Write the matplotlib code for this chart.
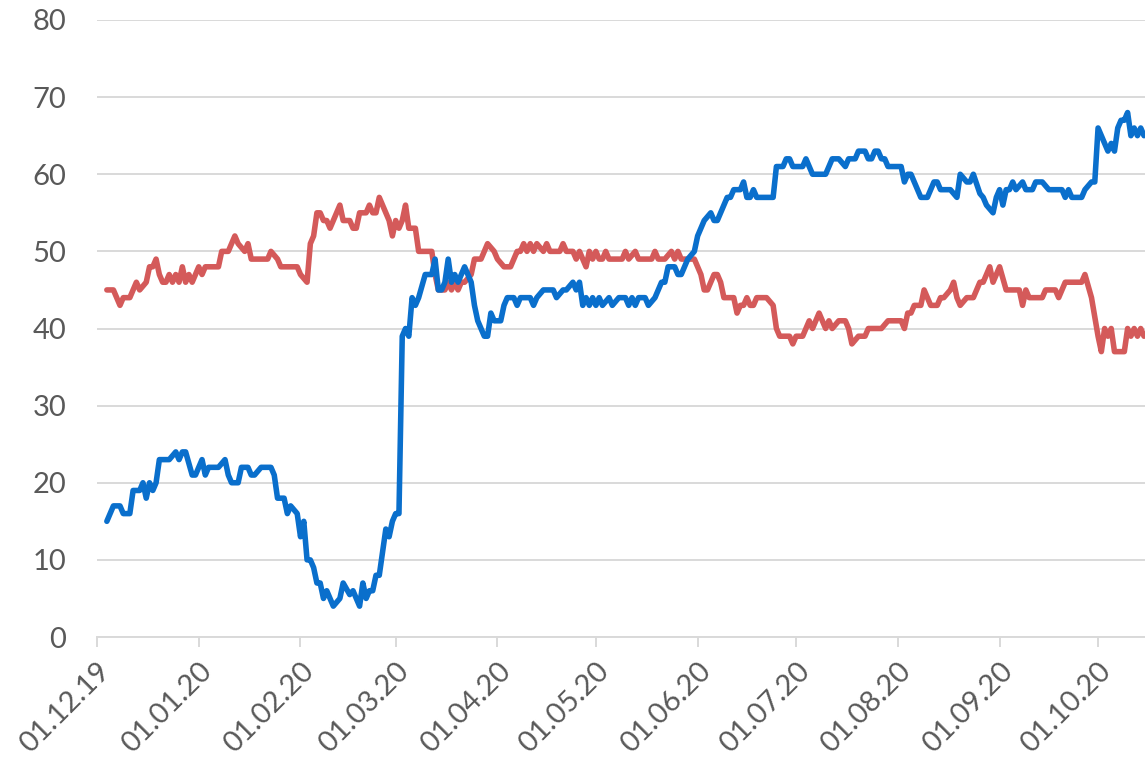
import matplotlib
matplotlib.use('Agg')
import matplotlib.pyplot as plt
import pandas as pd

start_date = '2019-12-01'

blue_days = [3, 5, 7, 8, 10, 11, 13, 14, 15, 16, 17, 18, 19, 22, 24, 25, 26, 27, 29, 30,
             32, 33, 34, 37, 39, 40, 41, 43, 44, 46, 47, 48, 50, 53, 54, 55, 56, 57, 58, 59,
             60, 61, 62, 63, 64, 65, 66, 67, 68, 69, 70, 71, 72, 74, 75, 77, 78, 79, 80, 81,
             82, 83, 84, 85, 86, 87, 88, 89, 90, 91, 92, 93, 94, 95, 96, 97, 98, 100, 102, 103,
             104, 105, 106, 107, 108, 109, 110, 111, 112, 113, 114, 115, 116, 117, 118, 119, 120, 121, 123, 124,
             125, 127, 128, 129, 132, 133, 134, 136, 139, 140, 142, 143, 145, 146, 147, 148, 149, 150, 151, 152,
             153, 154, 156, 157, 159, 161, 162, 163, 164, 165, 167, 168, 170, 171, 172, 173, 174, 176, 177, 178,
             179, 180, 182, 183, 184, 185, 187, 188, 189, 190, 192, 193, 194, 196, 197, 198, 199, 200, 201, 206,
             207, 209, 210, 211, 212, 215, 216, 217, 218, 222, 223, 224, 226, 228, 229, 231, 232, 234, 235, 236,
             237, 238, 239, 240, 241, 244, 245, 246, 247, 248, 249, 250, 251, 253, 255, 256, 257, 260, 262, 263,
             265, 266, 267, 269, 270, 271, 273, 274, 275, 276, 277, 278, 279, 280, 282, 283, 285, 286, 288, 290,
             294, 295, 296, 297, 300, 301, 303, 304, 305, 306, 307, 308, 309, 310, 311, 312, 313, 314, 315, 316,
             317, 318, 319]
blue_values = [15, 17, 17, 16, 16, 19, 19, 20, 18, 20, 19, 20, 23, 23, 24, 23, 24, 24, 21, 21,
               23, 21, 22, 22, 23, 21, 20, 20, 22, 22, 21, 21, 22, 22, 21, 18, 18, 18, 16, 17,
               16.5, 16, 13, 15, 10, 10, 9, 7, 7, 5, 6, 5, 4, 5, 7, 5.5, 6, 5, 4, 7,
               5, 6, 6, 8, 8, 11, 14, 13, 15, 16, 16, 39, 40, 39, 44, 43, 44, 47, 47, 49,
               45, 45, 46, 49, 46, 47, 46, 47, 48, 47, 46, 43, 41, 40, 39, 39, 42, 41, 41, 43,
               44, 44, 43, 44, 44, 43, 44, 45, 45, 44, 45, 45, 46, 45, 46, 43, 44, 43, 44, 43,
               44, 43, 44, 43, 44, 44, 43, 44, 43, 44, 44, 43, 44, 45, 46, 46, 48, 48, 47, 47,
               48, 49, 50, 52, 53, 54, 55, 54, 54, 55, 57, 57, 58, 58, 59, 57, 57, 58, 57, 57,
               61, 61, 62, 62, 61, 61, 62, 61, 60, 60, 61, 62, 62, 61, 62, 62, 63, 63, 62, 62,
               63, 63, 62, 62, 61, 61, 61, 59, 60, 60, 59, 58, 57, 57, 59, 59, 58, 58, 57, 60,
               59, 59, 60, 57.5, 57, 56, 55, 57, 58, 56, 58, 58, 59, 58, 59, 58, 58, 59, 59, 58,
               58, 57, 58, 57, 57, 58, 59, 59, 66, 65, 64, 63, 64, 63, 66, 67, 67, 68, 65, 66,
               65, 66, 65]

red_days = [3, 5, 7, 8, 10, 11, 12, 13, 15, 16, 17, 18, 19, 20, 21, 22, 23, 24, 25, 26,
            27, 28, 29, 30, 31, 32, 33, 37, 38, 39, 40, 42, 43, 45, 46, 47, 52, 53, 55, 56,
            61, 62, 64, 65, 66, 67, 68, 69, 70, 71, 72, 73, 74, 75, 77, 78, 79, 80, 82, 83,
            84, 85, 86, 87, 89, 90, 91, 92, 93, 94, 95, 97, 98, 102, 103, 104, 106, 107, 108, 109,
            110, 111, 112, 114, 115, 117, 118, 119, 121, 122, 124, 126, 127, 128, 129, 130, 131, 132, 133, 134,
            136, 137, 138, 141, 142, 143, 145, 146, 147, 148, 149, 150, 151, 152, 153, 154, 155, 156, 160, 161,
            162, 164, 165, 169, 170, 171, 173, 175, 176, 177, 178, 182, 183, 184, 185, 186, 188, 189, 190, 191,
            194, 195, 196, 197, 198, 199, 200, 201, 204, 206, 207, 208, 211, 212, 213, 215, 216, 217, 218, 220,
            221, 222, 223, 224, 226, 228, 229, 230, 232, 234, 235, 239, 240, 241, 245, 246, 247, 248, 249, 251,
            252, 253, 254, 256, 257, 258, 260, 261, 262, 263, 265, 267, 268, 269, 270, 271, 272, 273, 275, 277,
            281, 282, 283, 284, 288, 289, 292, 293, 295, 300, 301, 303, 304, 305, 306, 307, 308, 309, 310, 313,
            314, 315, 316, 317, 318, 319]
red_values = [45, 45, 43, 44, 44, 45, 46, 45, 46, 48, 48, 49, 47, 46, 46, 47, 46, 47, 46, 48,
              46, 47, 46, 47, 48, 47, 48, 48, 50, 50, 50, 52, 51, 50, 51, 49, 49, 50, 49, 48,
              48, 47, 46, 51, 52, 55, 55, 54, 54, 53, 54, 55, 56, 54, 54, 53, 53, 55, 55, 56,
              55, 55, 57, 56, 54, 52, 54, 53, 54, 56, 53, 53, 50, 50, 47, 45, 45, 46, 45, 46,
              45, 46, 46, 47, 49, 49, 50, 51, 50, 49, 48, 48, 49, 50, 50, 51, 50, 51, 50, 51,
              50, 51, 50, 50, 51, 50, 50, 49, 50, 49, 48, 50, 49, 50, 49, 49, 50, 49, 49, 50,
              49, 50, 49, 49, 50, 49, 49, 50, 49, 50, 49, 49, 48, 47, 45, 45, 47, 47, 46, 44,
              44, 42, 43, 43, 44, 43, 43, 44, 44, 43, 40, 39, 39, 38, 39, 39, 40, 41, 40, 42,
              41, 40, 41, 40, 41, 41, 40, 38, 39, 39, 40, 40, 40.5, 41, 41, 40, 42, 42, 43, 43,
              45, 44, 43, 43, 44, 44, 45, 46, 44, 43, 44, 44, 45, 46, 46, 47, 48, 46, 48, 45,
              45, 43, 45, 44, 44, 45, 45, 44, 46, 46, 47, 44, 41.5, 39, 37, 40, 39, 40, 37, 37,
              40, 39, 40, 39, 40, 39]

y_ticks = [0, 10, 20, 30, 40, 50, 60, 70, 80]
x_tick_labels = ['01.12.19', '01.01.20', '01.02.20', '01.03.20', '01.04.20', '01.05.20',
                 '01.06.20', '01.07.20', '01.08.20', '01.09.20', '01.10.20']

plt.rcParams['font.family'] = ['Lato', 'DejaVu Sans']

W, H = 1145, 759
fig = plt.figure(figsize=(W / 100, H / 100), dpi=100)
ax = fig.add_axes([97 / W, (H - 637) / H, 1 - 97 / W, (637 - 20) / H])

t0 = pd.Timestamp(start_date)
blue_dates = t0 + pd.to_timedelta(blue_days, unit='D')
red_dates = t0 + pd.to_timedelta(red_days, unit='D')

grid_c = '#d9d9d9'
text_c = '#595959'

ax.plot(red_dates, red_values, color='#D45A5A', lw=4.0,
        solid_joinstyle='round', solid_capstyle='round', zorder=3)
ax.plot(blue_dates, blue_values, color='#0A6FCC', lw=4.0,
        solid_joinstyle='round', solid_capstyle='round', zorder=4)

ax.set_ylim(0, 80)
ax.set_xlim(t0, t0 + pd.Timedelta(days=319.3))
ax.set_yticks(y_ticks)
ax.set_yticklabels([str(v) for v in y_ticks], fontsize=21, color=text_c)
ax.yaxis.grid(True, color=grid_c, lw=1.4)
ax.set_axisbelow(True)

xt = pd.to_datetime(x_tick_labels, format='%d.%m.%y')
ax.set_xticks(xt)
ax.set_xticklabels(x_tick_labels, rotation=45, ha='right', va='top',
                   rotation_mode='anchor', fontsize=21, color=text_c)

for s in ['left', 'right', 'top']:
    ax.spines[s].set_visible(False)
ax.spines['bottom'].set_color(grid_c)
ax.spines['bottom'].set_linewidth(1.4)
ax.tick_params(axis='y', length=0, pad=22)
ax.tick_params(axis='x', length=7, width=1.4, color=grid_c, direction='out', pad=8)

fig.savefig('out.png', dpi=100)
